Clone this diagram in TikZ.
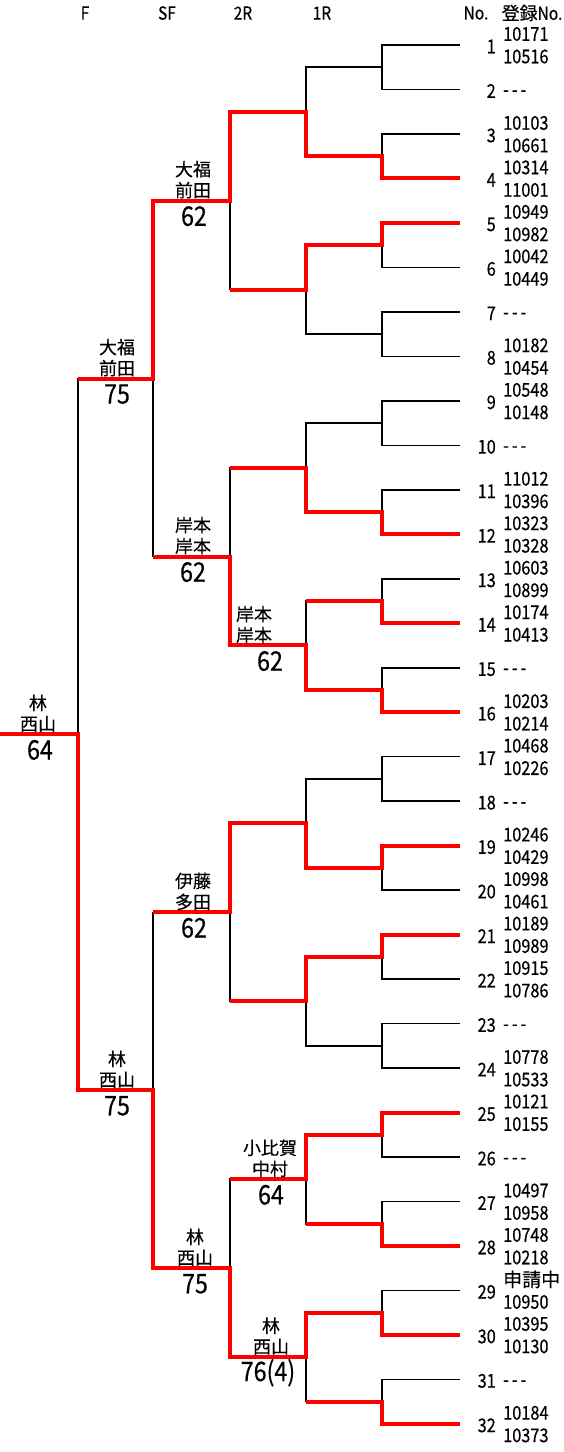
\documentclass[tikz,border=0pt]{standalone}
\usepackage{fontspec}
\newfontfamily\jpfont[FakeBold=0.3]{Noto Sans CJK JP}
\newfontfamily\numfont[FakeStretch=0.86,FakeBold=0.4]{Noto Sans CJK JP}
\tikzset{
  tree/.style={line width=1.6pt, black},
  win/.style={line width=4pt, red, line join=miter},
  hdr/.style={inner sep=0pt, font=\numfont\fontsize{18}{20}\selectfont},
  slotno/.style={inner sep=0pt, anchor=east, font=\numfont\fontsize{19}{20}\selectfont},
  reg/.style={inner sep=0pt, anchor=west, font=\numfont\fontsize{19}{20}\selectfont},
  pname/.style={inner sep=0pt, font=\jpfont\fontsize{18}{20}\selectfont},
  score/.style={inner sep=0pt, font=\numfont\fontsize{27}{28}\selectfont},
}
\begin{document}
\begin{tikzpicture}[x=1pt,y=-1pt]
\useasboundingbox (0,0) rectangle (563,1452);
% coordinates
\foreach \i in {1,...,32} {
  \pgfmathsetmacro\yy{45+(\i-1)*44.48}
  \coordinate (L\i) at (460,\yy);
}
\foreach \k in {1,...,16} {\pgfmathsetmacro\yy{45+(2*\k-1.5)*44.48} \coordinate (m\k) at (382,\yy);}
\foreach \k in {1,...,8} {\pgfmathsetmacro\yy{45+(4*\k-2.5)*44.48} \coordinate (q\k) at (306,\yy);}
\foreach \k in {1,...,4} {\pgfmathsetmacro\yy{45+(8*\k-4.5)*44.48} \coordinate (s\k) at (230,\yy);}
\foreach \k in {1,2} {\pgfmathsetmacro\yy{45+(16*\k-8.5)*44.48} \coordinate (f\k) at (153,\yy);}
\coordinate (F) at (78,{45+15.5*44.48});
\coordinate (C) at (0,{45+15.5*44.48});
% black tree
\foreach \i in {1,...,32} {\pgfmathtruncatemacro\p{(\i+1)/2} \draw[tree] (L\i) -| (m\p);}
\foreach \k in {1,...,16} {\pgfmathtruncatemacro\p{(\k+1)/2} \draw[tree] (m\k) -| (q\p);}
\foreach \k in {1,...,8} {\pgfmathtruncatemacro\p{(\k+1)/2} \draw[tree] (q\k) -| (s\p);}
\foreach \k in {1,...,4} {\pgfmathtruncatemacro\p{(\k+1)/2} \draw[tree] (s\k) -| (f\p);}
\draw[tree] (f1) -| (F);
\draw[tree] (f2) -| (F);
\draw[tree] (F) -- (C);
% winners
\draw[win] (L4) -| (m2) -| (q1) -| (s1) -| (f1) -- (f1 -| F);
\draw[win] (L5) -| (m3) -| (q2) -- (q2 -| s1);
\draw[win] (L12) -| (m6) -| (q3) -- (q3 -| s2);
\draw[win] (L14) -| (m7) -- (m7 -| q4);
\draw[win] (L16) -| (m8) -| (q4) -| (s2) -- (s2 -| f1);
\draw[win] (L19) -| (m10) -| (q5) -| (s3) -- (s3 -| f2);
\draw[win] (L21) -| (m11) -| (q6) -- (q6 -| s3);
\draw[win] (L25) -| (m13) -| (q7) -- (q7 -| s4);
\draw[win] (L28) -| (m14) -- (m14 -| q7);
\draw[win] (L30) -| (m15) -| (q8) -| (s4) -| (f2) -| (F) -- (C);
\draw[win] (L32) -| (m16) -- (m16 -| q8);
% headers
\node[hdr] (hF) at (85,13) {F};
\node[hdr] (hSF) at (167,13) {SF};
\node[hdr] (h2R) at (243,13) {2R};
\node[hdr] (h1R) at (322,13) {1R};
\node[hdr] (hNo) at (476,13) {No.};
\node[hdr] (hReg) at (532,13) {{\jpfont 登録}No.};
% slot numbers
\foreach \i in {1,...,32} {
  \pgfmathsetmacro\yy{45+(\i-1)*44.48}
  \node[slotno] (n\i) at (496,{\yy+1.5}) {\i};
}
% registration numbers
\foreach \i/\a/\b in {1/10171/10516,3/10103/10661,4/10314/11001,5/10949/10982,6/10042/10449,8/10182/10454,9/10548/10148,11/11012/10396,12/10323/10328,13/10603/10899,14/10174/10413,16/10203/10214,17/10468/10226,19/10246/10429,20/10998/10461,21/10189/10989,22/10915/10786,24/10778/10533,25/10121/10155,27/10497/10958,28/10748/10218,29/{\jpfont 申請中}/10950,30/10395/10130,32/10184/10373} {
  \pgfmathsetmacro\yy{45+(\i-1)*44.48}
  \node[reg] (ra\i) at (503,{\yy-11}) {\a};
  \node[reg] (rb\i) at (503,{\yy+11.5}) {\b};
}
\foreach \i in {2,7,10,15,18,23,26,31} {
  \pgfmathsetmacro\yy{45+(\i-1)*44.48}
  \node[reg] (rd\i) at (503,{\yy+4}) {\mbox{-}\kern3pt\mbox{-}\kern3pt\mbox{-}};
}
% player labels
\foreach \id/\nx/\sx/\ly/\la/\lb/\sc in {
 fin/38/40/734.4/林/西山/64,
 fa/117/117/378.6/大福/前田/75,
 fb/117/117/1090.3/林/西山/75,
 sa/193/194/200.7/大福/前田/62,
 sb/193/193/556.6/岸本/岸本/62,
 sc/193/194/912.4/伊藤/多田/62,
 sd/195/195/1268.3/林/西山/75,
 qd/254/270/645.6/岸本/岸本/62,
 qg/270/271/1179.3/小比賀/中村/64,
 qh/271/268/1357.2/林/西山/76(4)} {
  \node[pname] (\id-a) at (\nx,{\ly-31.5}) {\la};
  \node[pname] (\id-b) at (\nx,{\ly-10.5}) {\lb};
  \node[score] (\id-c) at (\sx,{\ly+15.5}) {\sc};
}
\end{tikzpicture}
\end{document}
